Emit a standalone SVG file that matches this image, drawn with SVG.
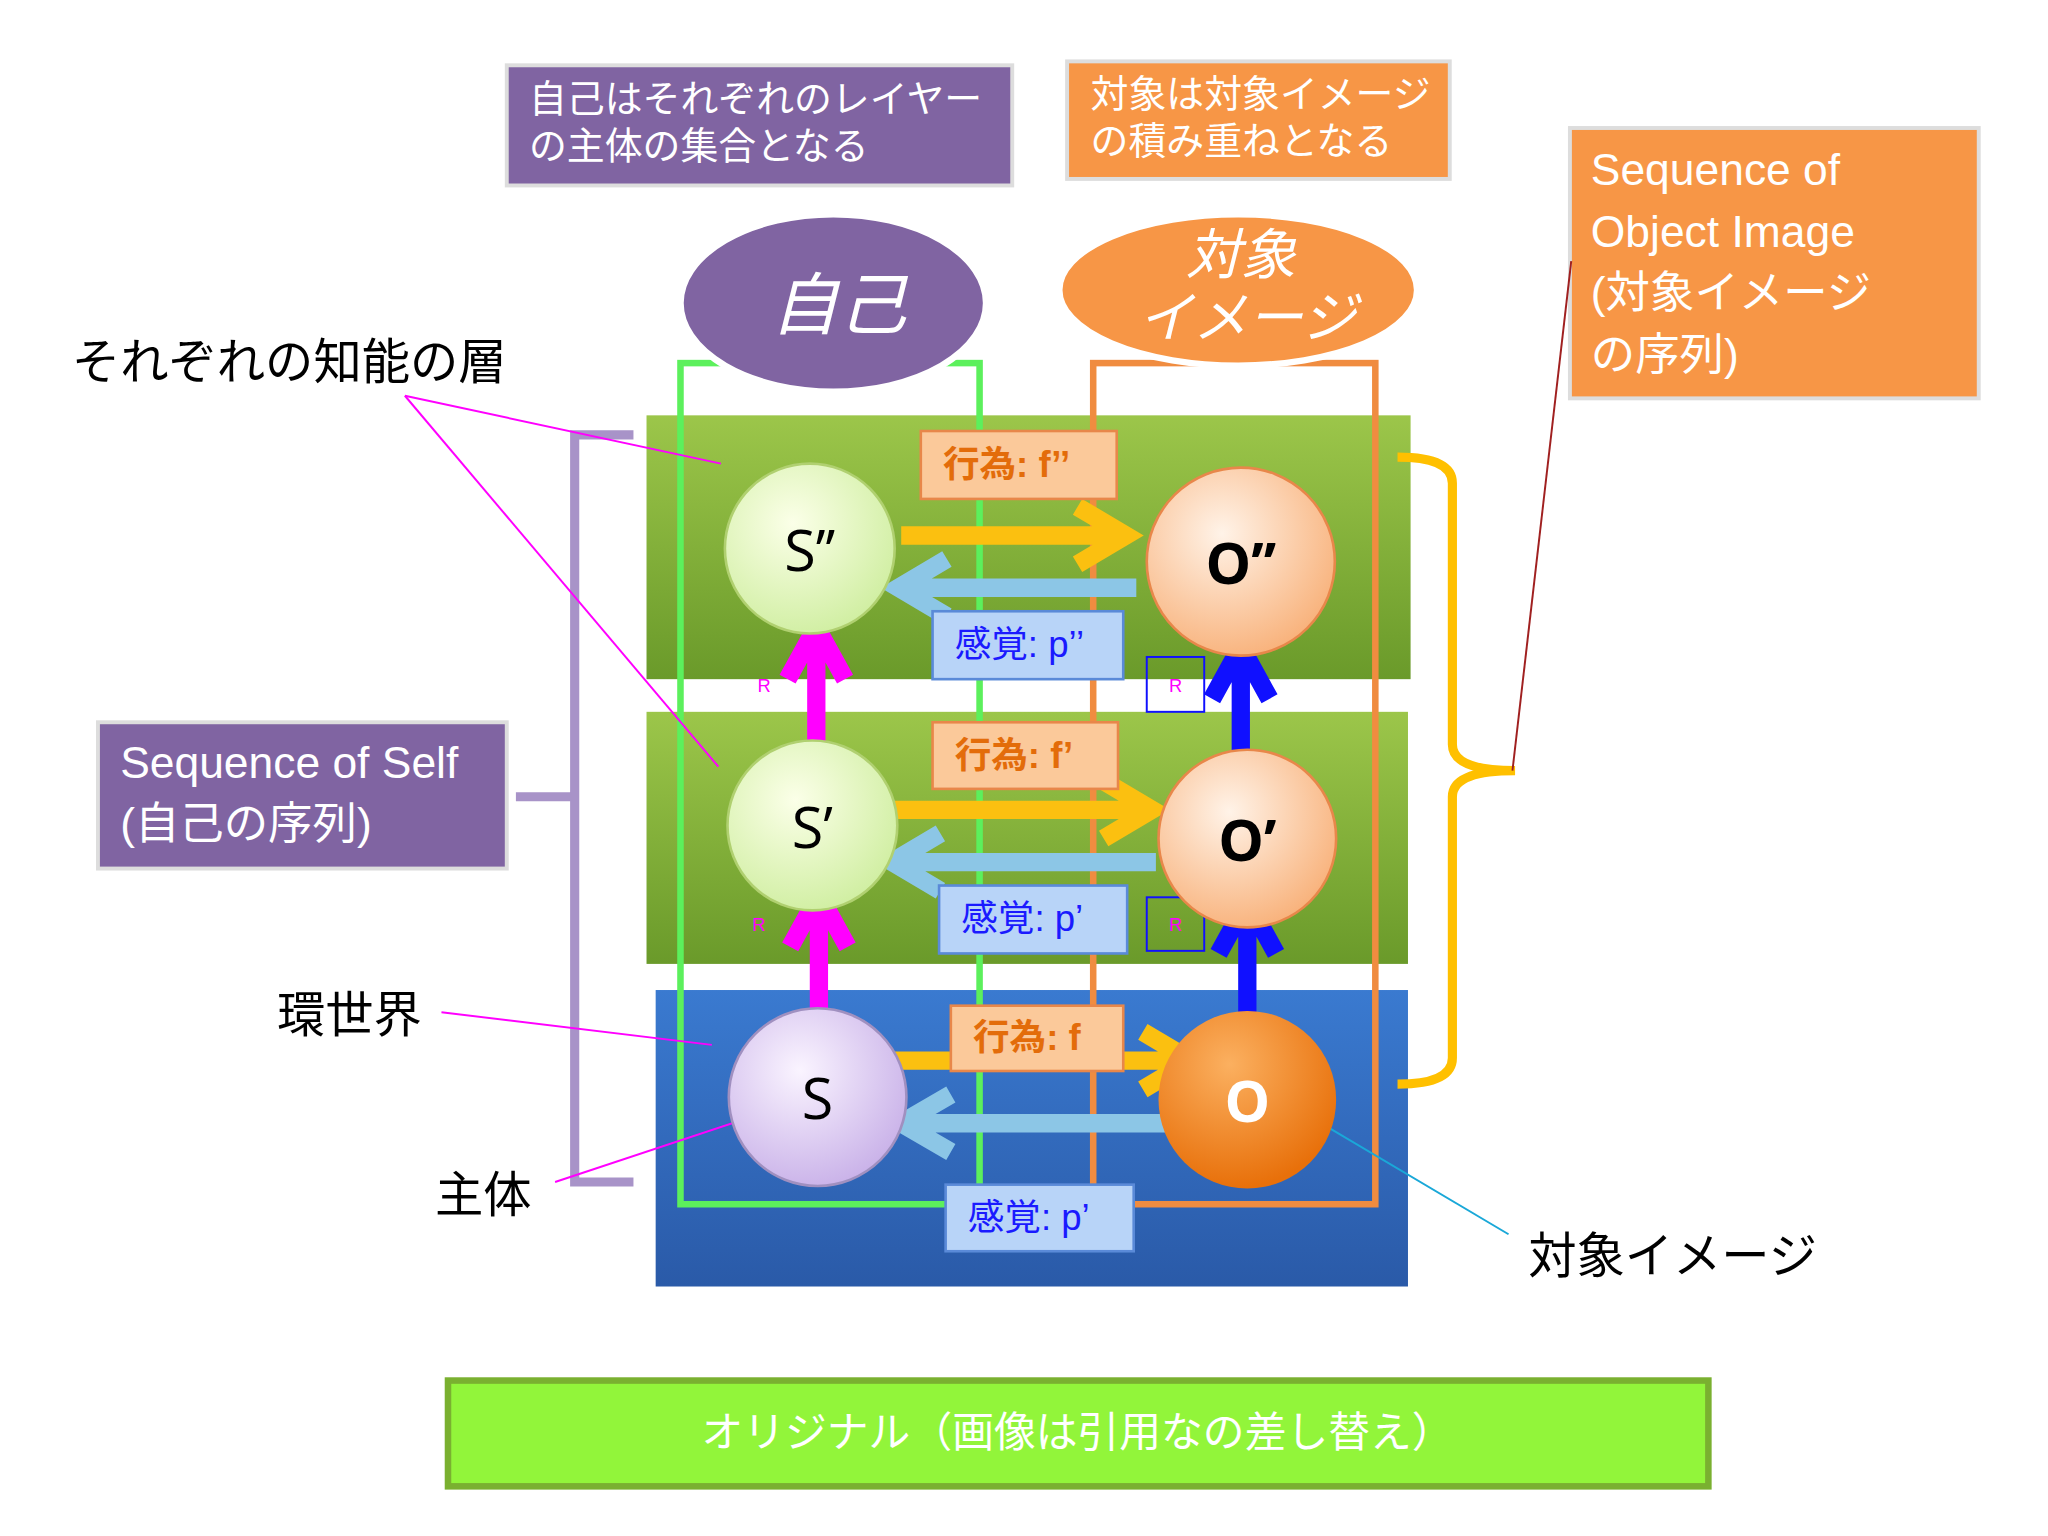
<svg xmlns="http://www.w3.org/2000/svg" width="2048" height="1536" viewBox="0 0 2048 1536">
<defs>
<style>
.jp{font-family:"Liberation Sans","Noto Sans CJK JP",sans-serif}
.w{fill:#fff}
.lbl{fill:#fbc99a;stroke:#e8874a;stroke-width:2}
.lbl2{fill:#b8d4f8;stroke:#5a8ad8;stroke-width:2}
.lt{font-size:28px;font-weight:bold;fill:#e36c0a;font-family:"Liberation Sans","Noto Sans CJK JP",sans-serif}
.lt2{font-size:28px;fill:#1a1aff;font-family:"Liberation Sans","Noto Sans CJK JP",sans-serif}
.ct{font-size:44px;font-family:"Open Sans","Liberation Sans",sans-serif}
.r{font-size:14px;fill:#f0f;font-family:"Liberation Sans",sans-serif}
</style>
<radialGradient id="gs" cx="0.4" cy="0.35" r="0.7"><stop offset="0" stop-color="#fbffe8"/><stop offset="1" stop-color="#cfeea0"/></radialGradient>
<radialGradient id="gl" cx="0.4" cy="0.35" r="0.7"><stop offset="0" stop-color="#faf4ff"/><stop offset="1" stop-color="#c8b0e8"/></radialGradient>
<radialGradient id="go" cx="0.4" cy="0.35" r="0.7"><stop offset="0" stop-color="#fff3e8"/><stop offset="1" stop-color="#f8b078"/></radialGradient>
<radialGradient id="gO" cx="0.4" cy="0.3" r="0.7"><stop offset="0" stop-color="#fbb060"/><stop offset="1" stop-color="#e8700a"/></radialGradient>
<linearGradient id="gg" x1="0" y1="0" x2="0" y2="1"><stop offset="0" stop-color="#9cc64a"/><stop offset="1" stop-color="#6a9a2a"/></linearGradient>
<linearGradient id="gb" x1="0" y1="0" x2="0" y2="1"><stop offset="0" stop-color="#3a7ad0"/><stop offset="1" stop-color="#2a5aa8"/></linearGradient>
</defs>
<rect width="2048" height="1536" fill="#fff"/>
<g transform="scale(1.3061)">
<g id="layers">
<rect x="495" y="318" width="585" height="202" fill="url(#gg)"/>
<rect x="495" y="545" width="583" height="193" fill="url(#gg)"/>
<rect x="502" y="758" width="576" height="227" fill="url(#gb)"/>
</g>
<g id="outlines" fill="none" stroke-width="5">
<rect x="521" y="278" width="229" height="644" stroke="#5cf05c"/>
<rect x="837" y="278" width="216" height="644" stroke="#f08c40"/>
</g>
<g id="boxes">
<rect x="388" y="50" width="387" height="92" fill="#8064a2" stroke="#ddd" stroke-width="3"/>
<text class="jp w" font-size="29"><tspan x="405" y="86">自己はそれぞれのレイヤー</tspan><tspan x="405" y="122">の主体の集合となる</tspan></text>
<rect x="817" y="47" width="293" height="90" fill="#f79646" stroke="#ddd" stroke-width="3"/>
<text class="jp w" font-size="29"><tspan x="835" y="82">対象は対象イメージ</tspan><tspan x="835" y="118">の積み重ねとなる</tspan></text>
<rect x="1202" y="98" width="313" height="207" fill="#f79646" stroke="#ddd" stroke-width="3"/>
<text class="jp w" font-size="34"><tspan x="1218" y="142">Sequence of</tspan><tspan x="1218" y="189">Object Image</tspan><tspan x="1218" y="236">(対象イメージ</tspan><tspan x="1218" y="283">の序列)</tspan></text>
<rect x="75" y="553" width="313" height="112" fill="#8064a2" stroke="#ddd" stroke-width="3"/>
<text class="jp w" font-size="34"><tspan x="92" y="596">Sequence of Self</tspan><tspan x="92" y="642">(自己の序列)</tspan></text>
<rect x="343" y="1057" width="965" height="81" fill="#92f53a" stroke="#7ab030" stroke-width="5"/>
<text class="jp w" font-size="32" x="825" y="1108" text-anchor="middle">オリジナル（画像は引用なの差し替え）</text>
</g>
<g id="ellipses">
<ellipse cx="638" cy="232" rx="117" ry="68" fill="#8064a2" stroke="#fff" stroke-width="5"/>
<text class="jp w" font-size="52" font-style="italic" x="642" y="252" text-anchor="middle">自己</text>
<ellipse cx="948" cy="222" rx="137" ry="58" fill="#f79646" stroke="#fff" stroke-width="5"/>
<text class="jp w" font-size="42" font-style="italic" text-anchor="middle"><tspan x="950" y="210">対象</tspan><tspan x="955" y="258">イメージ</tspan></text>
</g>
<g id="connectors">
<g stroke-width="14" fill="none">
<path d="M690 410H860M825 388L862 410L825 432" stroke="#fbc010"/>
<path d="M870 450H690M725 428L688 450L725 472" stroke="#8cc6e6"/>
<path d="M678 620H880M845 598L882 620L845 642" stroke="#fbc010"/>
<path d="M885 660H685M720 638L683 660L720 682" stroke="#8cc6e6"/>
<path d="M678 812H910M875 790L912 812L875 834" stroke="#fbc010"/>
<path d="M900 860H690M728 838L690 860L728 882" stroke="#8cc6e6"/>
<path d="M625 580V480M603 520L625 480L647 520" stroke="#ff00ff"/>
<path d="M627 785V685M605 725L627 685L649 725" stroke="#ff00ff"/>
<path d="M950 595V495M928 535L950 495L972 535" stroke="#1010ff"/>
<path d="M955 790V690M933 730L955 690L977 730" stroke="#1010ff"/>
</g>
<path d="M485 333H440V905H485M440 610H395" fill="none" stroke="#a893c8" stroke-width="7"/>
<path d="M1070 350Q1112 350 1112 370V570Q1112 590 1160 590Q1112 590 1112 610V810Q1112 830 1070 830" fill="none" stroke="#ffc000" stroke-width="7"/>
<g stroke="#f0f" stroke-width="1.5">
<line x1="310" y1="303" x2="552" y2="355"/><line x1="310" y1="303" x2="550" y2="587"/>
<line x1="338" y1="775" x2="545" y2="800"/><line x1="425" y1="905" x2="585" y2="852"/>
</g>
<line x1="1003" y1="855" x2="1155" y2="945" stroke="#1aa8d8" stroke-width="1.5"/>
<line x1="1203" y1="200" x2="1158" y2="590" stroke="#a02020" stroke-width="1.5"/>
<rect x="878" y="503" width="44" height="42" fill="none" stroke="#1010ff" stroke-width="1.5"/>
<rect x="878" y="687" width="44" height="41" fill="none" stroke="#1010ff" stroke-width="1.5"/>
<text class="r" x="580" y="530">R</text><text class="r" x="576" y="713">R</text>
<text class="r" x="895" y="530">R</text><text class="r" x="895" y="713">R</text>
</g>
<g id="nodes">
<circle cx="620" cy="420" r="65" fill="url(#gs)" stroke="#b0d070" stroke-width="2"/><text class="ct" x="620" y="437" text-anchor="middle">S’’</text>
<circle cx="622" cy="632" r="65" fill="url(#gs)" stroke="#b0d070" stroke-width="2"/><text class="ct" x="622" y="649" text-anchor="middle">S’</text>
<circle cx="626" cy="840" r="68" fill="url(#gl)" stroke="#a090c0" stroke-width="2"/><text class="ct" x="626" y="857" text-anchor="middle">S</text>
<circle cx="950" cy="430" r="72" fill="url(#go)" stroke="#e8874a" stroke-width="2"/><text class="ct" font-weight="bold" x="950" y="447" text-anchor="middle">O’’</text>
<circle cx="955" cy="642" r="68" fill="url(#go)" stroke="#e8874a" stroke-width="2"/><text class="ct" font-weight="bold" x="955" y="659" text-anchor="middle">O’</text>
<circle cx="955" cy="842" r="68" fill="url(#gO)"/><text class="ct w" font-weight="bold" x="955" y="859" text-anchor="middle">O</text>
</g>
<g id="labels">
<rect class="lbl" x="705" y="330" width="150" height="52"/><text class="lt" x="722" y="365">行為: f’’</text>
<rect class="lbl2" x="714" y="468" width="146" height="52"/><text class="lt2" x="731" y="503">感覚: p’’</text>
<rect class="lbl" x="714" y="553" width="142" height="51"/><text class="lt" x="731" y="588">行為: f’</text>
<rect class="lbl2" x="719" y="678" width="144" height="52"/><text class="lt2" x="736" y="713">感覚: p’</text>
<rect class="lbl" x="728" y="770" width="132" height="50"/><text class="lt" x="745" y="804">行為: f</text>
<rect class="lbl2" x="724" y="907" width="144" height="51"/><text class="lt2" x="741" y="942">感覚: p’</text>
</g>
<g id="texts" class="jp" font-size="37">
<text x="55" y="290">それぞれの知能の層</text>
<text x="212" y="790">環世界</text>
<text x="333" y="928">主体</text>
<text x="1170" y="975">対象イメージ</text>
</g>
</g>
</svg>
